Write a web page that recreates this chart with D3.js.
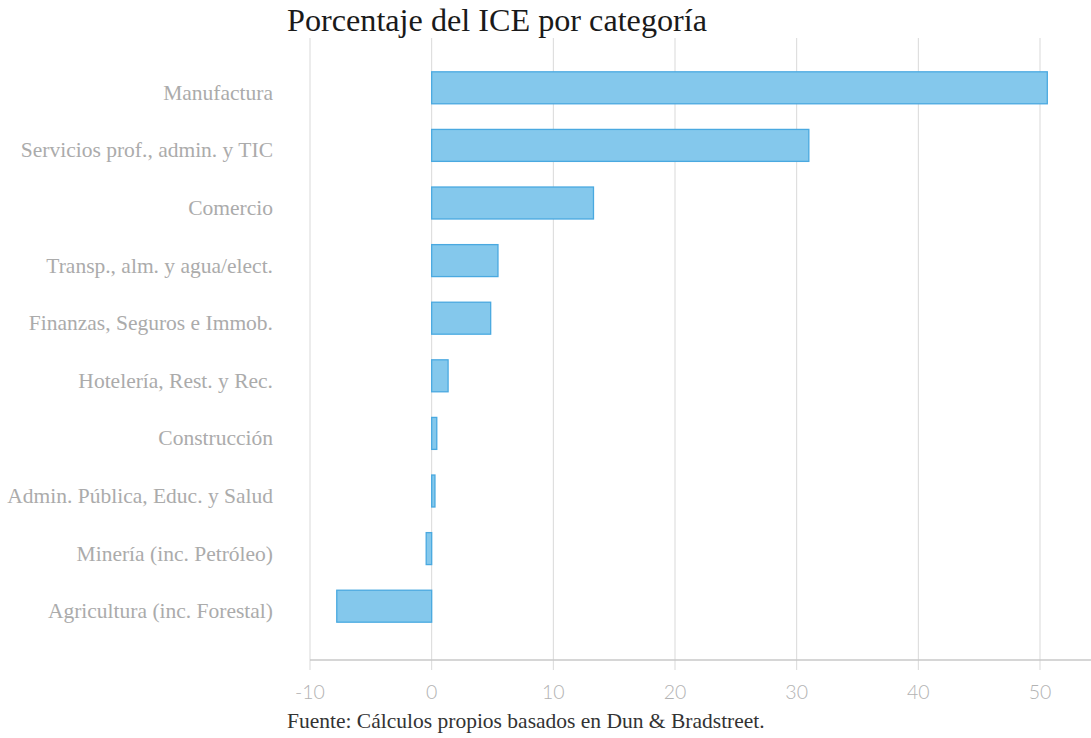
<!DOCTYPE html>
<html><head><meta charset="utf-8">
<script src="https://cdn.jsdelivr.net/npm/d3@7"></script>
<style>body{margin:0;background:#fff;}svg{display:block;}</style>
</head><body>
<script>
const categories = ["Manufactura","Servicios prof., admin. y TIC","Comercio","Transp., alm. y agua/elect.","Finanzas, Seguros e Immob.","Hotelería, Rest. y Rec.","Construcción","Admin. Pública, Educ. y Salud","Minería (inc. Petróleo)","Agricultura (inc. Forestal)"];
const values = [50.6, 31.0, 13.3, 5.45, 4.85, 1.35, 0.42, 0.27, -0.45, -7.8];
const xTicks = [-10, 0, 10, 20, 30, 40, 50];
const title = "Porcentaje del ICE por categoría";
const source = "Fuente: Cálculos propios basados en Dun & Bradstreet.";

const W = 1091, H = 738;
const svg = d3.select("body").append("svg").attr("width", W).attr("height", H);

const x = d3.scaleLinear().domain([-10, 50]).range([310, 1040]);
const y = d3.scaleBand().domain(categories).range([59, 635]).paddingInner(0.445).paddingOuter(0.2225);
const axisY = 660;

// gridlines
svg.append("g").selectAll("line").data(xTicks).join("line")
  .attr("x1", d => x(d)).attr("x2", d => x(d))
  .attr("y1", 38).attr("y2", axisY + 10)
  .attr("stroke", "#d9d9d9").attr("stroke-width", 1);

// axis line
svg.append("line").attr("x1", x(-10)).attr("x2", W).attr("y1", axisY).attr("y2", axisY)
  .attr("stroke", "#c8c8c8").attr("stroke-width", 1.3);

// tick labels
svg.append("g").selectAll("text").data(xTicks).join("text")
  .attr("x", d => x(d)).attr("y", 699)
  .attr("text-anchor", "middle")
  .attr("font-family", "Lato, 'Open Sans', sans-serif").attr("font-weight", 300)
  .attr("font-size", 19.5).attr("fill", "#b3b3b3")
  .text(d => d);

// bars
svg.append("g").selectAll("rect").data(values).join("rect")
  .attr("x", d => x(Math.min(0, d)))
  .attr("width", d => Math.abs(x(d) - x(0)))
  .attr("y", (d, i) => y(categories[i]))
  .attr("height", y.bandwidth())
  .attr("fill", "#84c8ec").attr("stroke", "#4aa9e0").attr("stroke-width", 1.3);

// category labels
svg.append("g").selectAll("text").data(categories).join("text")
  .attr("x", 273).attr("y", d => y(d) + y.bandwidth() / 2 + 12)
  .attr("text-anchor", "end")
  .attr("font-family", "'Liberation Serif', serif")
  .attr("font-size", 21.5).attr("fill", "#ababab")
  .text(d => d);

// title
svg.append("text").attr("x", 287).attr("y", 31)
  .attr("font-family", "'Liberation Serif', serif").attr("font-size", 32.2).attr("fill", "#1a1a1a")
  .text(title);

// source
svg.append("text").attr("x", 287).attr("y", 728)
  .attr("font-family", "'Liberation Serif', serif").attr("font-size", 21.5).attr("fill", "#333")
  .text(source);
</script>
</body></html>
